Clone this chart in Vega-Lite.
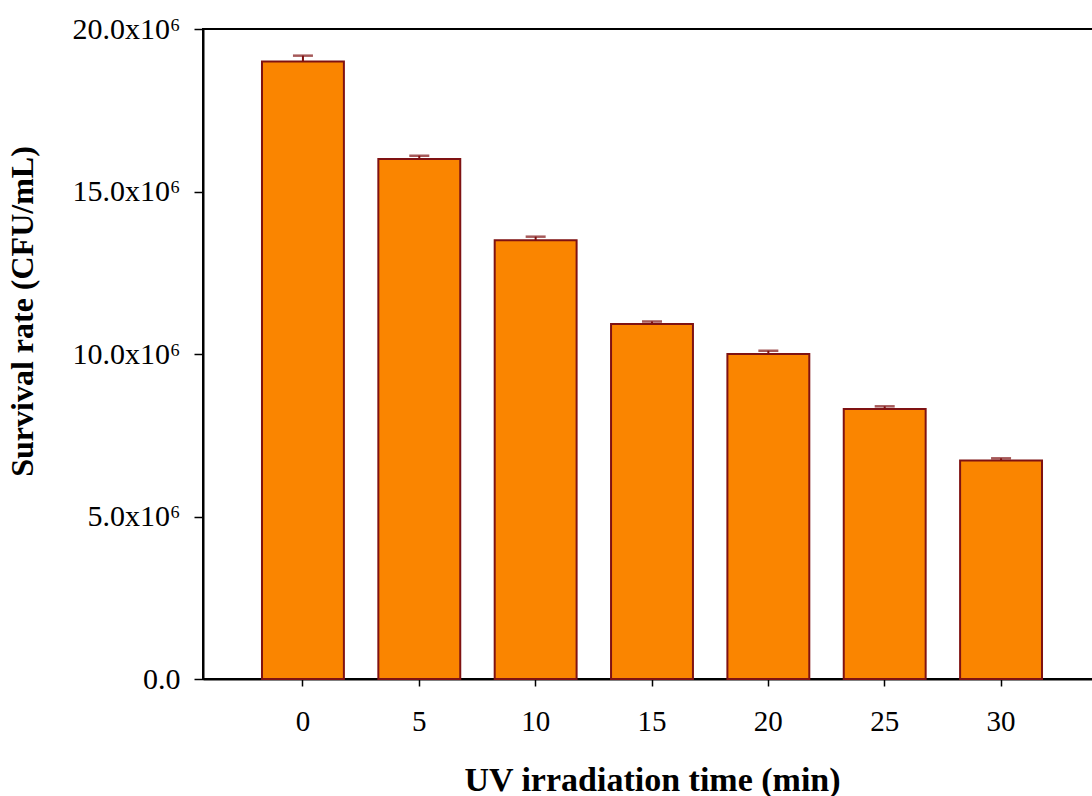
{
  "$schema": "https://vega.github.io/schema/vega-lite/v6.json",
  "autosize": "none",
  "padding": {"left": 203, "top": 29, "right": 0, "bottom": 117},
  "width": 898,
  "height": 650,
  "background": "white",
  "config": {
    "view": {"stroke": "black", "strokeWidth": 2},
    "font": "Liberation Serif"
  },
  "data": {
    "values": [
      {"time": "0", "rate": 19000000, "err": 180000},
      {"time": "5", "rate": 16000000, "err": 100000},
      {"time": "10", "rate": 13500000, "err": 110000},
      {"time": "15", "rate": 10920000, "err": 80000},
      {"time": "20", "rate": 10000000, "err": 100000},
      {"time": "25", "rate": 8310000, "err": 80000},
      {"time": "30", "rate": 6720000, "err": 70000}
    ]
  },
  "transform": [{"calculate": "datum.rate + datum.err", "as": "upper"}],
  "encoding": {
    "x": {
      "field": "time", "type": "ordinal", "sort": null,
      "scale": {"paddingInner": 0.296, "paddingOuter": 0.507},
      "axis": {
        "title": "UV irradiation time (min)",
        "labelAngle": 0,
        "labelFont": "Liberation Serif", "labelFontSize": 29, "labelColor": "black",
        "labelPadding": 21,
        "tickSize": 7, "tickWidth": 1.5, "tickColor": "black",
        "domainColor": "black", "domainWidth": 2,
        "titleFont": "Liberation Serif", "titleFontSize": 34, "titleFontWeight": "bold", "titleColor": "black",
        "titlePadding": 27
      }
    }
  },
  "layer": [
    {
      "mark": {"type": "bar", "fill": "#FA8500", "stroke": "#7F1212", "strokeWidth": 2},
      "encoding": {
        "y": {
          "field": "rate", "type": "quantitative",
          "scale": {"domain": [0, 20000000], "nice": false},
          "axis": {
            "title": "Survival rate (CFU/mL)",
            "values": [0, 5000000, 10000000, 15000000, 20000000],
            "labelExpr": "datum.value == 0 ? '0.0' : format(datum.value / 1000000, '.1f') + 'x10⁶'",
            "labelFont": "Liberation Serif", "labelFontSize": 30, "labelColor": "black",
            "labelPadding": 14,
            "tickSize": 9, "tickWidth": 1.5, "tickColor": "black",
            "domainColor": "black", "domainWidth": 2,
            "grid": false,
            "titleFont": "Liberation Serif", "titleFontSize": 32, "titleFontWeight": "bold", "titleColor": "black",
            "titlePadding": 33,
            "titleY": 282
          }
        }
      }
    },
    {
      "mark": {"type": "rule", "stroke": "#7F1212", "strokeWidth": 2},
      "encoding": {
        "y": {"field": "rate", "type": "quantitative"},
        "y2": {"field": "upper"}
      }
    },
    {
      "mark": {"type": "tick", "color": "#7F1212", "size": 20, "thickness": 2.5},
      "encoding": {
        "y": {"field": "upper", "type": "quantitative"}
      }
    }
  ]
}
